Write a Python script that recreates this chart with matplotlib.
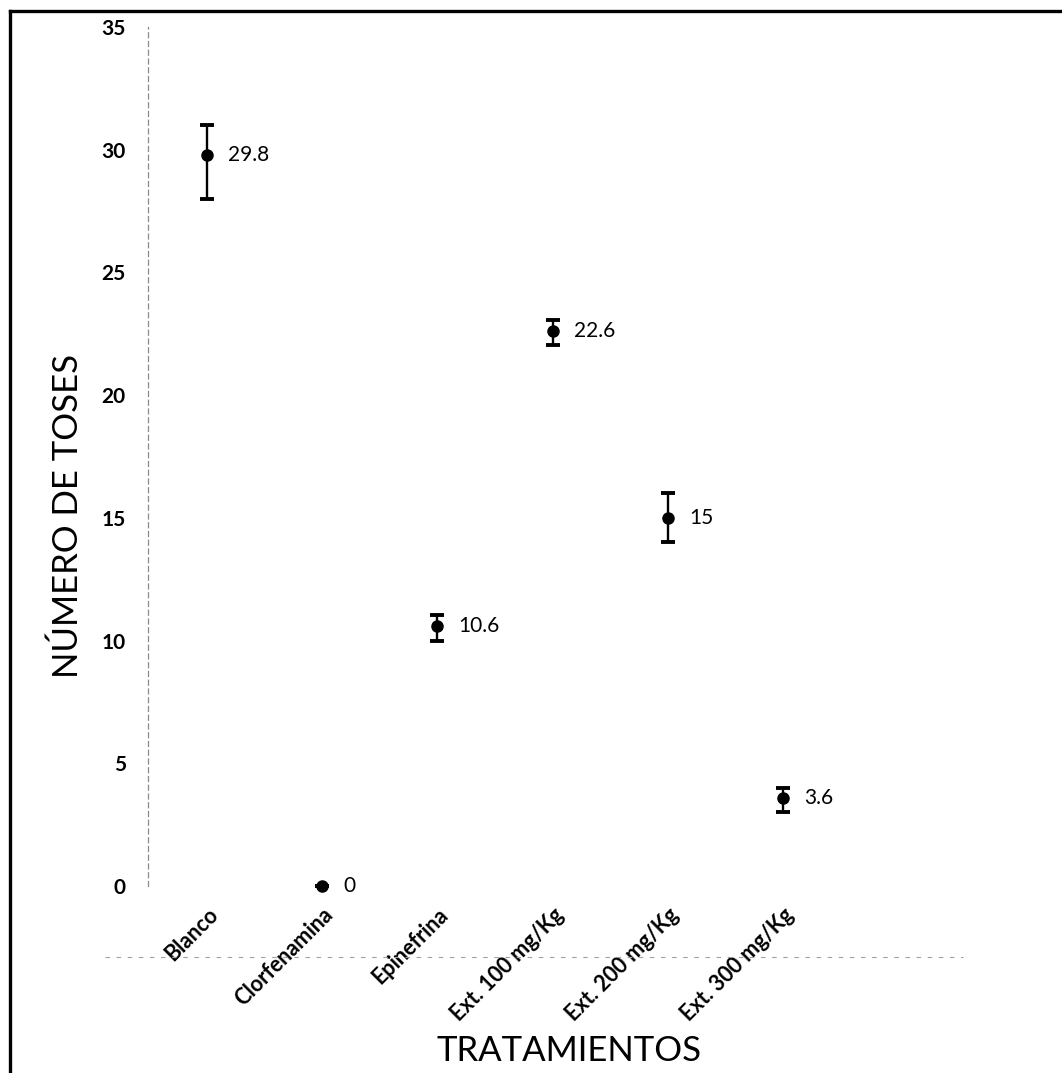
import matplotlib
matplotlib.use("Agg")
import matplotlib.pyplot as plt
from matplotlib.lines import Line2D
import numpy as np

categories = ["Blanco", "Clorfenamina", "Epinefrina", "Ext. 100 mg/Kg", "Ext. 200 mg/Kg", "Ext. 300 mg/Kg"]
values = [29.8, 0, 10.6, 22.6, 15, 3.6]
err_lower = [1.8, 0, 0.6, 0.55, 1.0, 0.6]
err_upper = [1.2, 0, 0.45, 0.45, 1.0, 0.4]
value_labels = ["29.8", "0", "10.6", "22.6", "15", "3.6"]
yticks = [0, 5, 10, 15, 20, 25, 30, 35]

plt.rcParams['font.family'] = ['Lato', 'DejaVu Sans']

W, H = 1062, 1073
fig = plt.figure(figsize=(W / 100, H / 100), dpi=100)
fig.patch.set_facecolor("white")

left_px, right_px, top_px, bottom_px = 148, 963, 27, 886
ax = fig.add_axes([left_px / W, 1 - bottom_px / H, (right_px - left_px) / W, (bottom_px - top_px) / H])
x = np.arange(1, len(categories) + 1)
ax.set_xlim(0.488, 7.56)
ax.set_ylim(0, 35)

ax.errorbar(x, values, yerr=[err_lower, err_upper], fmt='o', color='black',
            markersize=8, elinewidth=1.7, capsize=4.8, capthick=2.8, clip_on=False, zorder=3)

for xi, v, lab in zip(x, values, value_labels):
    ax.annotate(lab, (xi, v), xytext=(15, 0), textcoords='offset points',
                ha='left', va='center', fontsize=15, color='black')

for s in ['top', 'right', 'bottom']:
    ax.spines[s].set_visible(False)
ax.spines['left'].set_color('#8a8a8a')
ax.spines['left'].set_linestyle((0, (4, 3)))
ax.spines['left'].set_linewidth(0.9)

ax.set_yticks(yticks)
ax.set_yticklabels([str(t) for t in yticks], fontsize=15, fontweight='bold')
ax.tick_params(axis='y', length=0, pad=16)
ax.set_xticks(x)
ax.set_xticklabels(categories, rotation=45, ha='right', va='top', rotation_mode='anchor',
                   fontsize=15.5, fontweight='bold')
ax.tick_params(axis='x', length=0, pad=13)

# faint dashed horizontal line below the plot
fig.add_artist(Line2D([105 / W, 963 / W], [1 - 957 / H, 1 - 957 / H], color='#a0a0a0',
                      linestyle=(0, (4, 6)), linewidth=0.8))

fig.text(68 / W, 1 - 516 / H, "NÚMERO DE TOSES", rotation=90, ha='center', va='center', fontsize=25)
fig.text(569 / W, 1 - 1051 / H, "TRATAMIENTOS", ha='center', va='center', fontsize=25)

# outer frame lines (left and top)
fig.add_artist(Line2D([10 / W, 10 / W], [0, 1 - 11 / H], color='black', linewidth=2.4))
fig.add_artist(Line2D([10 / W, 1], [1 - 11 / H, 1 - 11 / H], color='black', linewidth=2.4))

fig.savefig("out.png", dpi=100, facecolor='white')
